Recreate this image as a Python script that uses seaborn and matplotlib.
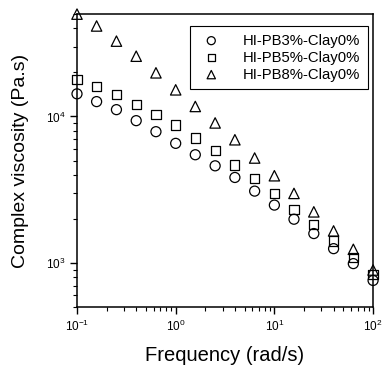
import matplotlib
matplotlib.use('Agg')
import matplotlib.pyplot as plt
from matplotlib.ticker import LogLocator, NullFormatter
import numpy as np
import pandas as pd
import seaborn as sns

sns.set_style('ticks')
plt.rcParams['font.family'] = ['Liberation Sans', 'DejaVu Sans']
plt.rcParams['mathtext.fontset'] = 'custom'
plt.rcParams['mathtext.rm'] = 'Liberation Sans'
plt.rcParams['text.color'] = 'black'
plt.rcParams['axes.labelcolor'] = 'black'

# angular frequency (rad/s)
freq = [0.1, 0.158, 0.251, 0.398, 0.631, 1.0, 1.58, 2.51, 3.98, 6.31,
        10.0, 15.8, 25.1, 39.8, 63.1, 100.0]

# complex viscosity (Pa.s)
pb3 = [14270, 12630, 11130, 9360, 7870, 6550, 5475, 4600, 3830, 3090,
       2480, 1986, 1585, 1250, 988, 758]
pb5 = [17800, 16000, 14100, 12120, 10350, 8750, 7130, 5830, 4660, 3790,
       2980, 2320, 1836, 1410, 1087, 834]
pb8 = [50000, 41500, 32700, 25800, 19860, 15200, 11700, 9030, 6930, 5200,
       3935, 2980, 2230, 1652, 1237, 893]

labels = ['HI-PB3%-Clay0%', 'HI-PB5%-Clay0%', 'HI-PB8%-Clay0%']
markers = ['o', 's', '^']
sizes = [52, 44, 56]

df = pd.DataFrame({
    'freq': freq * 3,
    'eta': pb3 + pb5 + pb8,
    'sample': [labels[0]] * len(freq) + [labels[1]] * len(freq) + [labels[2]] * len(freq),
})

fig = plt.figure(figsize=(3.85, 3.72), dpi=100)
ax = fig.add_axes([0.2, 0.175, 0.769, 0.787])

for lab, mk, sz in zip(labels, markers, sizes):
    sub = df[df['sample'] == lab]
    sns.scatterplot(data=sub, x='freq', y='eta', marker=mk, s=sz, ax=ax,
                    facecolors='none', edgecolors='black', linewidths=0.9,
                    label=lab, clip_on=False, zorder=3)

ax.set_xscale('log')
ax.set_yscale('log')
ax.set_xlim(0.1, 100)
ax.set_ylim(500, 50000)

ax.xaxis.set_major_locator(LogLocator(base=10))
ax.xaxis.set_minor_locator(LogLocator(base=10, subs=np.arange(2, 10)))
ax.yaxis.set_major_locator(LogLocator(base=10))
ax.yaxis.set_minor_locator(LogLocator(base=10, subs=np.arange(2, 10)))
ax.xaxis.set_minor_formatter(NullFormatter())
ax.yaxis.set_minor_formatter(NullFormatter())

ax.tick_params(which='major', direction='out', length=5, width=1, labelsize=8.5,
               colors='black')
ax.tick_params(which='minor', direction='out', length=3, width=0.8, colors='black')
for sp in ax.spines.values():
    sp.set_linewidth(1.1)
    sp.set_color('black')

ax.set_xlabel('Frequency (rad/s)', fontsize=14.5, labelpad=9)
ax.set_ylabel('Complex viscosity (Pa.s)', fontsize=14, labelpad=12)

leg = ax.legend(loc='upper right', bbox_to_anchor=(0.983, 0.959), borderaxespad=0,
                fontsize=10.7, frameon=True, fancybox=False, edgecolor='black',
                framealpha=1, handletextpad=1.2, borderpad=0.5, labelspacing=0.2,
                handlelength=1.9, markerscale=0.8)
leg.get_frame().set_linewidth(0.8)

fig.savefig('out.png', dpi=100)
